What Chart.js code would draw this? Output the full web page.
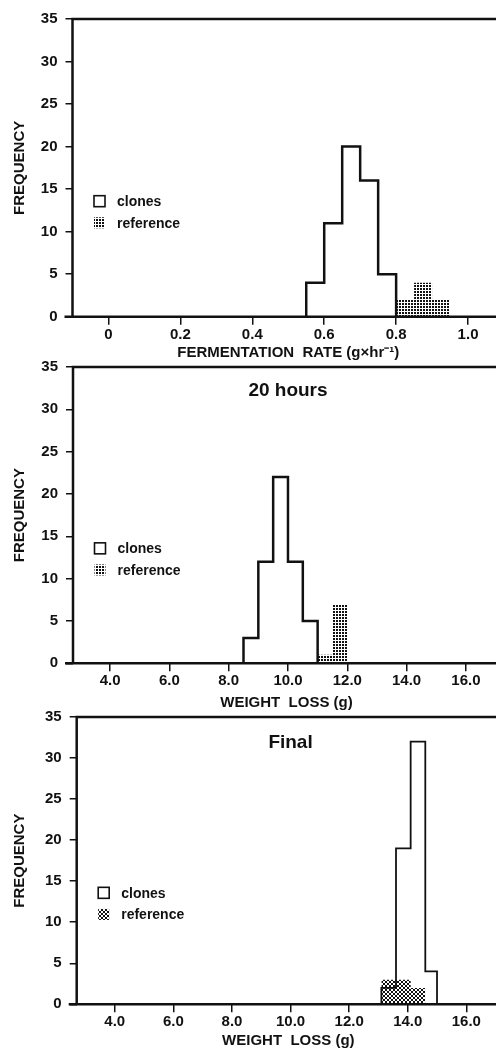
<!DOCTYPE html>
<html>
<head>
<meta charset="utf-8">
<title>Fermentation rate and weight loss histograms</title>
<script src="https://cdn.jsdelivr.net/npm/chart.js@4.4.1/dist/chart.umd.min.js"></script>
<style>
  html, body { margin: 0; padding: 0; background: #fff; overflow: hidden; }
  #page { position: relative; width: 496px; height: 1049px; overflow: hidden; background: #fff; }
  #page canvas { position: absolute; left: 0; }
</style>
</head>
<body>
<div id="page">
  <canvas id="rate-chart" width="504" height="362" style="top:0"></canvas>
  <canvas id="loss20-chart" width="500" height="362" style="top:350px"></canvas>
  <canvas id="final-chart" width="500" height="350" style="top:700px"></canvas>
</div>
<script>
// --- Data ---

// Fermentation rate (g x hr-1)
var rateEdges = [0.55, 0.6, 0.65, 0.7, 0.75, 0.8];
var rateClones = [4, 11, 20, 16, 5];
var rateRefEdges = [0.8, 0.85, 0.9, 0.95];
var rateReference = [2, 4, 2];
var rateTicks = [0, 0.2, 0.4, 0.6, 0.8, 1.0];
var rateTickLabels = ['0', '0.2', '0.4', '0.6', '0.8', '1.0'];

// Weight loss after 20 hours (g)
var loss20Edges = [8.5, 9.0, 9.5, 10.0, 10.5, 11.0];
var loss20Clones = [3, 12, 22, 12, 5];
var loss20RefEdges = [11.0, 11.5, 12.0];
var loss20Reference = [1, 7];

// Final weight loss (g)
var finalEdges = [13.1, 13.6, 14.1, 14.6, 15.0];
var finalClones = [2, 19, 32, 4];
var finalRefEdges = [13.1, 13.6, 14.1, 14.6];
var finalReference = [3, 3, 2];

var lossTicks = [4, 6, 8, 10, 12, 14, 16];
var lossTickLabels = ['4.0', '6.0', '8.0', '10.0', '12.0', '14.0', '16.0'];

var freqTicks = [0, 5, 10, 15, 20, 25, 30, 35];
var seriesLabels = ['clones', 'reference'];

// --- Styles ---
var ink = '#111';
var fontFamily = '"Liberation Sans", Arial, Helvetica, sans-serif';

Chart.defaults.font.family = fontFamily;
Chart.defaults.font.weight = 'bold';
Chart.defaults.color = ink;

// Dotted fill used for the reference strain
function makePattern(size, cells) {
  var tile = document.createElement('canvas');
  tile.width = size;
  tile.height = size;
  var tctx = tile.getContext('2d');
  tctx.fillStyle = ink;
  cells.forEach(function(c) { tctx.fillRect(c[0], c[1], c[2], c[3]); });
  return tctx.createPattern(tile, 'repeat');
}

var dotPattern = makePattern(3, [[0, 0, 2, 2]]);
var crossPattern = makePattern(4, [
  [0, 0, 1, 1], [1, 1, 1, 1], [2, 2, 1, 1], [3, 3, 1, 1],
  [3, 0, 1, 1], [2, 1, 1, 1], [1, 2, 1, 1], [0, 3, 1, 1]
]);

// Turn bin edges + counts into the outline of a histogram
function histPoints(edges, counts) {
  var pts = [{ x: edges[0], y: 0 }];
  for (var i = 0; i < counts.length; i++) {
    pts.push({ x: edges[i], y: counts[i] });
    pts.push({ x: edges[i + 1], y: counts[i] });
  }
  pts.push({ x: edges[edges.length - 1], y: 0 });
  return pts;
}

/* --- Plugins --- */

// Box round the plot, x axis line runs a little past the y axis
var framePlugin = {
  id: 'frame',
  afterDraw: function(chart) {
    var a = chart.chartArea;
    var ctx = chart.ctx;
    ctx.save();
    ctx.strokeStyle = ink;
    ctx.lineWidth = 2.5;
    ctx.beginPath();
    ctx.moveTo(a.left - 8, a.bottom);
    ctx.lineTo(a.right, a.bottom);
    ctx.moveTo(a.left, a.bottom);
    ctx.lineTo(a.left, a.top);
    ctx.lineTo(a.right, a.top);
    ctx.lineTo(a.right, a.bottom);
    ctx.stroke();
    ctx.restore();
  }
};

// Legend drawn inside the plot area
var insideLegendPlugin = {
  id: 'insideLegend',
  afterDraw: function(chart, args, opts) {
    var a = chart.chartArea;
    var ctx = chart.ctx;
    var y0 = a.top + (a.bottom - a.top) * 0.612;
    ctx.save();
    ctx.font = 'bold 14px ' + fontFamily;
    ctx.textBaseline = 'middle';
    ctx.textAlign = 'left';
    chart.data.datasets.forEach(function(ds, i) {
      var y = y0 + i * 21.6;
      var bx = a.left + 21.5;
      if (ds.fill) {
        ctx.fillStyle = ds.backgroundColor;
        ctx.fillRect(bx, y - 5.5, 11, 11);
      } else {
        ctx.strokeStyle = ink;
        ctx.lineWidth = 1.6;
        ctx.strokeRect(bx, y - 5.5, 11, 11);
      }
      ctx.fillStyle = ink;
      ctx.fillText(ds.label, a.left + 44.5, y + 1);
    });
    ctx.restore();
  }
};

// Panel heading ("20 hours", "Final") centred on a data value
var panelTitlePlugin = {
  id: 'panelTitle',
  afterDraw: function(chart, args, opts) {
    if (!opts || !opts.text) return;
    var ctx = chart.ctx;
    var x = chart.scales.x.getPixelForValue(opts.at);
    ctx.save();
    ctx.font = 'bold 19px ' + fontFamily;
    ctx.textAlign = 'center';
    ctx.textBaseline = 'middle';
    ctx.fillStyle = ink;
    ctx.fillText(opts.text, x, chart.chartArea.top + opts.offset);
    ctx.restore();
  }
};

/* --- Chart setup --- */
function setupChart(canvasId, cfg) {
  var canvas = document.getElementById(canvasId);

  var clonesSettings = {
    label: seriesLabels[0],
    data: histPoints(cfg.edges, cfg.clones),
    borderColor: ink,
    borderWidth: cfg.lineWidth,
    borderJoinStyle: 'miter',
    fill: false,
    pointRadius: 0,
    tension: 0
  };

  var referenceSettings = {
    label: seriesLabels[1],
    data: histPoints(cfg.refEdges, cfg.reference),
    borderWidth: 0,
    borderColor: 'rgba(0,0,0,0)',
    backgroundColor: cfg.pattern,
    fill: 'origin',
    pointRadius: 0,
    tension: 0
  };

  return new Chart(canvas, {
    type: 'line',
    data: { datasets: [clonesSettings, referenceSettings] },
    plugins: [framePlugin, insideLegendPlugin, panelTitlePlugin],
    options: {
      responsive: false,
      animation: false,
      events: [],
      layout: { padding: { top: cfg.padTop, left: 0, right: 0, bottom: 0 } },
      plugins: {
        legend: { display: false },
        tooltip: { enabled: false },
        panelTitle: cfg.title
      },
      scales: {
        x: {
          type: 'linear',
          min: cfg.xMin,
          max: cfg.xMax,
          afterFit: function(s) { s.height = cfg.xAxisHeight; },
          afterBuildTicks: function(s) {
            s.ticks = cfg.ticks.map(function(v) { return { value: v }; });
          },
          ticks: {
            padding: 1,
            maxRotation: 0,
            autoSkip: false,
            font: { size: 15, weight: 'bold' },
            callback: function(value, index) { return cfg.tickLabels[index]; }
          },
          grid: { drawOnChartArea: false, drawTicks: true, tickLength: 8, color: ink, lineWidth: 1.5 },
          border: { display: false },
          title: {
            display: true,
            text: cfg.xTitle,
            font: { size: 15, weight: 'bold' },
            padding: { top: 0, bottom: 0 }
          }
        },
        y: {
          min: 0,
          max: 35,
          afterFit: function(s) { s.width = cfg.yAxisWidth; },
          afterBuildTicks: function(s) {
            s.ticks = freqTicks.map(function(v) { return { value: v }; });
          },
          ticks: {
            padding: 8,
            font: { size: 15, weight: 'bold' }
          },
          grid: { drawOnChartArea: false, drawTicks: true, tickLength: 7, color: ink, lineWidth: 1.5 },
          border: { display: false },
          title: {
            display: true,
            text: 'FREQUENCY',
            font: { size: 15, weight: 'bold' },
            padding: { top: 11, bottom: 0 }
          }
        }
      }
    }
  });
}

setupChart('rate-chart', {
  edges: rateEdges, clones: rateClones,
  refEdges: rateRefEdges, reference: rateReference,
  ticks: rateTicks, tickLabels: rateTickLabels,
  xMin: -0.1, xMax: 1.1,
  xTitle: 'FERMENTATION  RATE (g\u00D7hr\u207B\u00B9)',
  pattern: dotPattern, lineWidth: 2.5,
  padTop: 19, xAxisHeight: 45.3, yAxisWidth: 72.5,
  title: {}
});

setupChart('loss20-chart', {
  edges: loss20Edges, clones: loss20Clones,
  refEdges: loss20RefEdges, reference: loss20Reference,
  ticks: lossTicks, tickLabels: lossTickLabels,
  xMin: 2.75, xMax: 17.15,
  xTitle: 'WEIGHT  LOSS (g)',
  pattern: dotPattern, lineWidth: 2.5,
  padTop: 15.7, xAxisHeight: 48.7, yAxisWidth: 73,
  title: { text: '20 hours', at: 10, offset: 23.6 }
});

setupChart('final-chart', {
  edges: finalEdges, clones: finalClones,
  refEdges: finalRefEdges, reference: finalReference,
  ticks: lossTicks, tickLabels: lossTickLabels,
  xMin: 2.7, xMax: 17.15,
  xTitle: 'WEIGHT  LOSS (g)',
  pattern: crossPattern, lineWidth: 1.8,
  padTop: 15, xAxisHeight: 45.7, yAxisWidth: 76.7,
  title: { text: 'Final', at: 10, offset: 25.7 }
});
</script>
</body>
</html>
